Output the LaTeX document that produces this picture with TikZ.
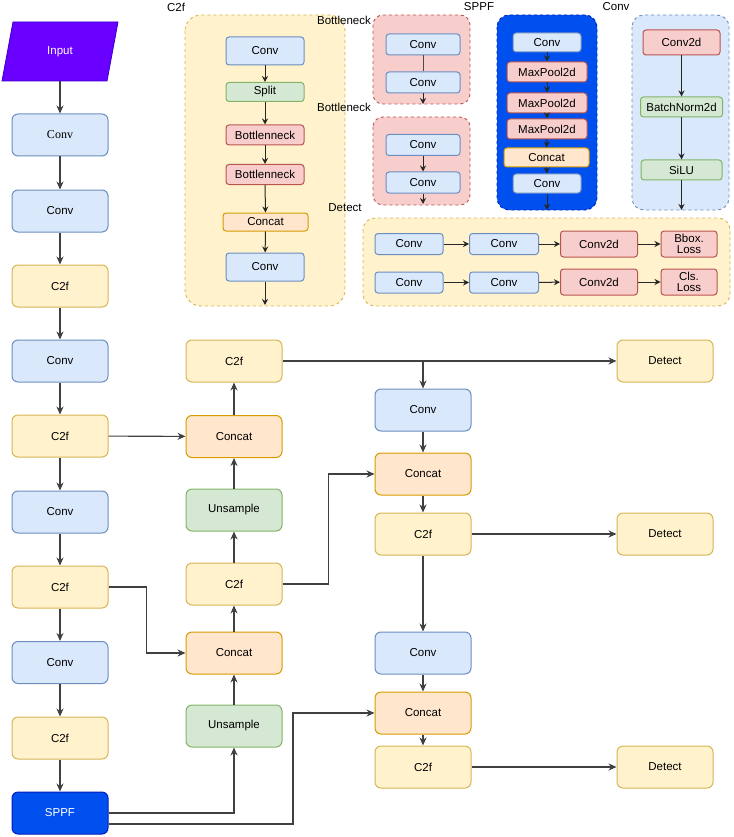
\documentclass[tikz,border=0pt]{standalone}
\usepackage{fontspec}
\setmainfont{Liberation Sans}
\newfontfamily\convserif{Liberation Serif}
\usetikzlibrary{arrows.meta,positioning,calc}

\definecolor{bluefill}{HTML}{DAE8FC}
\definecolor{blueline}{HTML}{6C8EBF}
\definecolor{yelfill}{HTML}{FFF2CC}
\definecolor{yelline}{HTML}{D6B656}
\definecolor{orafill}{HTML}{FFE6CC}
\definecolor{oraline}{HTML}{D79B00}
\definecolor{grnfill}{HTML}{D5E8D4}
\definecolor{grnline}{HTML}{82B366}
\definecolor{redfill}{HTML}{F8CECC}
\definecolor{redline}{HTML}{B85450}
\definecolor{purfill}{HTML}{6A00FF}
\definecolor{purline}{HTML}{3700CC}
\definecolor{sppffill}{HTML}{0050EF}
\definecolor{sppfline}{HTML}{001DBC}

\tikzset{
  blk/.style={draw, rounded corners=6pt, minimum width=96pt, minimum height=42pt,
    inner sep=0pt, line width=1pt, align=center, font=\fontsize{11.5}{12}\selectfont},
  sblk/.style={blk, rounded corners=3pt, minimum height=20pt},
  convb/.style={fill=bluefill, draw=blueline},
  c2fb/.style={fill=yelfill, draw=yelline},
  catb/.style={fill=orafill, draw=oraline},
  grnb/.style={fill=grnfill, draw=grnline},
  redb/.style={fill=redfill, draw=redline},
  module/.style={draw, dash pattern=on 3pt off 3pt, rounded corners=16pt, line width=0.9pt},
  modlabel/.style={font=\fontsize{11.5}{12}\selectfont},
  flow/.style={->, draw=black!75, line width=1.1pt, >={Stealth[length=8pt,width=7pt]}},
  inner/.style={->, draw=black!85, line width=1pt, >={Stealth[length=6pt,width=6pt]}}
}

\begin{document}
\begin{tikzpicture}[x=1pt,y=-1pt]
\useasboundingbox (0,0) rectangle (733,837);

% Module containers
\draw[module, fill=yelfill, draw=yelline] (185,15) rectangle (345,306);
\draw[module, fill=redfill, draw=redline, rounded corners=10pt] (373,15) rectangle (470,104);
\draw[module, fill=redfill, draw=redline, rounded corners=10pt] (373,117) rectangle (470,205);
\draw[module, fill=sppffill, draw=sppfline, rounded corners=12pt] (497,15) rectangle (597,210);
\draw[module, fill=bluefill, draw=blueline, rounded corners=12pt] (632,15) rectangle (729,210);
\draw[module, fill=yelfill, draw=yelline, rounded corners=12pt] (363,218) rectangle (730,306);

\node[modlabel] (lc2f) at (176,7) {C2f};
\node[modlabel] (lbn1) at (344,20) {Bottleneck};
\node[modlabel] (lbn2) at (344,107) {Bottleneck};
\node[modlabel] (lsppf) at (479,7) {SPPF};
\node[modlabel] (lconv) at (616,7) {Conv};
\node[modlabel] (ldet) at (345,208) {Detect};

% C2f module
\node[sblk, convb, minimum width=78pt, minimum height=28pt] (a1) at (265,51) {Conv};
\node[sblk, grnb, minimum width=78pt, minimum height=19pt] (a2) at (265,92) {Split};
\node[sblk, redb, minimum width=78pt] (a3) at (265,135) {Bottlenneck};
\node[sblk, redb, minimum width=78pt] (a4) at (265,174.5) {Bottlenneck};
\node[sblk, catb, minimum width=85pt, minimum height=18pt] (a5) at (265.5,222) {Concat};
\node[sblk, convb, minimum width=78pt, minimum height=28pt] (a6) at (265,267) {Conv};
\coordinate (a7) at (265,305);
\foreach \p/\q in {a1/a2,a2/a3,a3/a4,a4/a5,a5/a6,a6/a7}
  \draw[inner] (\p) -- (\q);

% Bottleneck modules
\node[sblk, convb, minimum width=74pt, minimum height=21pt] (b1) at (423,44.5) {Conv};
\node[sblk, convb, minimum width=74pt, minimum height=21pt] (b2) at (423,82.5) {Conv};
\coordinate (b2o) at (423,104);
\draw[black!70, line width=1pt] (b1) -- (b2);
\draw[inner] (b2) -- (b2o);
\node[sblk, convb, minimum width=74pt, minimum height=21pt] (b3) at (423,145) {Conv};
\node[sblk, convb, minimum width=74pt, minimum height=21pt] (b4) at (423,182.5) {Conv};
\coordinate (b4o) at (423,204);
\draw[inner] (b3) -- (b4);
\draw[inner] (b4) -- (b4o);

% SPPF module
\node[sblk, convb, minimum width=68pt, minimum height=19pt] (s1) at (547,42.5) {Conv};
\node[sblk, redb, minimum width=80pt] (s2) at (547,72) {MaxPool2d};
\node[sblk, redb, minimum width=80pt] (s3) at (547,103) {MaxPool2d};
\node[sblk, redb, minimum width=80pt] (s4) at (547,129) {MaxPool2d};
\node[sblk, catb, minimum width=85pt, minimum height=19pt] (s5) at (546.5,157.5) {Concat};
\node[sblk, convb, minimum width=68pt, minimum height=19pt] (s6) at (547,183.5) {Conv};
\coordinate (s7) at (547,210);
\foreach \p/\q in {s1/s2,s2/s3,s3/s4,s4/s5,s5/s6,s6/s7}
  \draw[inner] (\p) -- (\q);

% Conv module
\node[sblk, redb, minimum width=77pt, minimum height=25pt] (v1) at (681.5,42.5) {Conv2d};
\node[sblk, grnb, minimum width=82pt] (v2) at (681.5,107) {BatchNorm2d};
\node[sblk, grnb, minimum width=81pt] (v3) at (681.5,170) {SiLU};
\coordinate (v4) at (681.5,210);
\foreach \p/\q in {v1/v2,v2/v3,v3/v4}
  \draw[inner] (\p) -- (\q);

% Detect module
\node[sblk, convb, minimum width=68pt, minimum height=21pt] (e1) at (409,244) {Conv};
\node[sblk, convb, minimum width=69pt, minimum height=21pt] (e2) at (504,244) {Conv};
\node[sblk, redb, minimum width=77pt, minimum height=26pt] (e3) at (599,244) {Conv2d};
\node[sblk, redb, minimum width=56pt, minimum height=26pt, font=\fontsize{11.5}{11}\selectfont] (e4) at (689,244) {Bbox.\\Loss};
\node[sblk, convb, minimum width=68pt, minimum height=21pt] (f1) at (409,282.5) {Conv};
\node[sblk, convb, minimum width=69pt, minimum height=21pt] (f2) at (504,282.5) {Conv};
\node[sblk, redb, minimum width=77pt, minimum height=26pt] (f3) at (599,282) {Conv2d};
\node[sblk, redb, minimum width=56pt, minimum height=26pt, font=\fontsize{11.5}{11}\selectfont] (f4) at (689,282) {Cls.\\Loss};
\foreach \p/\q in {e1/e2,e2/e3,e3/e4,f1/f2,f2/f3,f3/f4}
  \draw[inner] (\p) -- (\q);

% Backbone
\filldraw[fill=purfill, draw=purline, line width=0.8pt] (13,22) -- (118,22) -- (107,81) -- (2,81) -- cycle;
\node[minimum width=96pt, minimum height=59pt, inner sep=0pt, text=white,
  font=\fontsize{11.5}{12}\selectfont] (input) at (60,51.5) {Input};
\node[blk, convb, font=\convserif\fontsize{12}{12}\selectfont] (c1) at (60,135) {Conv};
\node[blk, convb] (c2) at (60,211) {Conv};
\node[blk, c2fb] (c3) at (60,286) {C2f};
\node[blk, convb] (c4) at (60,361) {Conv};
\node[blk, c2fb] (c5) at (60,436) {C2f};
\node[blk, convb] (c6) at (60,512) {Conv};
\node[blk, c2fb] (c7) at (60,587) {C2f};
\node[blk, convb] (c8) at (60,662.5) {Conv};
\node[blk, c2fb] (c9) at (60,738) {C2f};
\node[blk, fill=sppffill, draw=sppfline, text=white] (sppf) at (60,813) {SPPF};
\foreach \p/\q in {input/c1,c1/c2,c2/c3,c3/c4,c4/c5,c5/c6,c6/c7,c7/c8,c8/c9,c9/sppf}
  \draw[flow] (\p) -- (\q);

% Neck, upward path
\node[blk, c2fb] (m1) at (234,361) {C2f};
\node[blk, catb] (m2) at (234,436.5) {Concat};
\node[blk, grnb] (m3) at (234,510) {Unsample};
\node[blk, c2fb] (m4) at (234,584) {C2f};
\node[blk, catb] (m5) at (234,653) {Concat};
\node[blk, grnb] (m6) at (234,726) {Unsample};
\foreach \p/\q in {m6/m5,m5/m4,m4/m3,m3/m2,m2/m1}
  \draw[flow] (\p) -- (\q);

% Neck, downward path
\node[blk, convb] (r1) at (423,410) {Conv};
\node[blk, catb] (r2) at (423,474) {Concat};
\node[blk, c2fb] (r3) at (423,534) {C2f};
\node[blk, convb] (r4) at (423,653) {Conv};
\node[blk, catb] (r5) at (423,713) {Concat};
\node[blk, c2fb] (r6) at (423,767) {C2f};
\foreach \p/\q in {r1/r2,r2/r3,r3/r4,r4/r5,r5/r6}
  \draw[flow] (\p) -- (\q);

% Heads
\node[blk, c2fb] (d1) at (665,361) {Detect};
\node[blk, c2fb] (d2) at (665,534) {Detect};
\node[blk, c2fb] (d3) at (665,767) {Detect};

% Cross links
\draw[flow] (c5) -- (m2);
\draw[flow] (c7.east) -- ++(38,0) |- (m5.west);
\draw[flow] (sppf.east) -| (m6.south);
\draw[flow] ([yshift=-11pt]sppf.east) -- (293,824) |- (r5.west);
\draw[flow] (m1) -- (d1);
\draw[flow] (m1.east -| r1.north) -- (r1.north);
\draw[flow] (m4.east) -- ++(46,0) |- (r2.west);
\draw[flow] (r3) -- (d2);
\draw[flow] (r6) -- (d3);
\end{tikzpicture}
\end{document}
